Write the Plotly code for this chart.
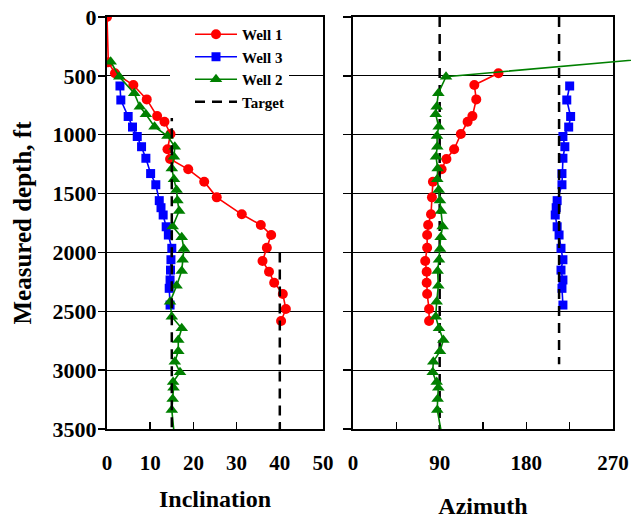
import plotly.graph_objects as go

# ---------------- data ----------------
depth_ticks = [0, 500, 1000, 1500, 2000, 2500, 3000, 3500]
incl_ticks = [0, 10, 20, 30, 40, 50]
azi_tickvals = [0, 45, 90, 135, 180, 225, 270]
azi_ticktext = ["0", "", "90", "", "180", "", "270"]

well1_depth = [0, 385, 478, 578, 700, 842, 890, 994, 1124, 1206, 1294, 1399, 1532,
               1676, 1767, 1852, 1960, 2073, 2164, 2257, 2353, 2481, 2583]
well1_incl = [0, 0.3, 1.85, 6.1, 9.2, 11.6, 13.3, 14.7, 14.0, 14.6, 18.8, 22.5, 25.4,
              31.2, 35.6, 38.0, 37.0, 36.0, 37.5, 38.7, 40.7, 41.4, 40.3]
well1_azi = [None, None, 151, 126, 128, 124, 119, 112, 105, 97, 92, 83, 82,
             81, 78, 77, 77, 75, 76.5, 76.5, 77, 79, 79]

well3_depth = [586, 705, 845, 935, 1015, 1102, 1200, 1330, 1425, 1560, 1620, 1682,
               1782, 1852, 1965, 2062, 2150, 2234, 2305, 2447]
well3_incl = [3.0, 3.2, 4.9, 5.9, 7.0, 8.0, 9.0, 10.1, 11.3, 12.1, 12.5, 13.0,
              13.7, 14.2, 15.0, 14.8, 14.7, 14.6, 14.4, 14.6]
well3_azi = [225, 222, 226, 224, 218, 220, 218, 217, 217, 212, 211, 210,
             212, 214, 216, 218, 216, 218, 217, 218]

well2_depth = [380, 507, 648, 762, 827, 932, 1011, 1102, 1187, 1286, 1379, 1470, 1558,
               1648, 1779, 1870, 1970, 2062, 2157, 2284, 2419, 2546, 2645, 2744, 2840,
               2928, 3018, 3100, 3150, 3245, 3338, 3560]
well2_incl = [0.85, 2.85, 6.3, 7.6, 9.0, 11.0, 14.0, 15.7, 15.5, 15.0, 15.5, 16.1, 16.3,
              16.7, 15.2, 17.3, 17.8, 17.5, 17.3, 16.1, 14.6, 15.0, 17.3, 16.5, 16.5,
              15.7, 16.9, 15.3, 15.4, 15.2, 15.0, 15.6]
well2_azi_depth = [330] + well2_depth[1:]
well2_azi = [340, 96.6, 88.6, 86.9, 85.9, 89.0, 87.2, 87.5, 86.2, 87.9, 87.5, 89.0, 90.3,
             91.4, 93.1, 91.0, 90.3, 89.3, 87.9, 88.6, 86.9, 85.9, 89.3, 93.8, 90.3,
             83.4, 82.8, 86.9, 88.6, 87.9, 87.5, 92.5]

target_incl_x = [15, 15, None, 40, 40]
target_incl_depth = [800, 3500, None, 2000, 3500]
target_azi_x = [90, 90, None, 214, 214]
target_azi_depth = [0, 3500, None, 0, 2950]

# ---------------- layout geometry ----------------
W, H = 631, 519
L, R, T, B = 107, 0, 17, 519 - 429
PW = W - L - R
PH = H - T - B


def fx(px):
    return (px - L) / PW


d1 = [fx(107), fx(323)]
d2 = [fx(353), fx(613)]
x3max = 270 * (1 - d2[0]) / (d2[1] - d2[0])

FONT = "Liberation Serif, Times New Roman, serif"
RED, BLUE, GREEN = "#FF0000", "#0000FF", "#008000"

fig = go.Figure()

common_line = dict(width=1.6)
# Inclination panel
fig.add_trace(go.Scatter(x=well1_incl, y=well1_depth, name="Well 1", mode="lines+markers",
                         line=dict(color=RED, **common_line),
                         marker=dict(symbol="circle", size=10, color=RED),
                         legendgroup="w1", xaxis="x", yaxis="y"))
fig.add_trace(go.Scatter(x=well3_incl, y=well3_depth, name="Well 3", mode="lines+markers",
                         line=dict(color=BLUE, **common_line),
                         marker=dict(symbol="square", size=9, color=BLUE),
                         legendgroup="w3", xaxis="x", yaxis="y"))
fig.add_trace(go.Scatter(x=well2_incl, y=well2_depth, name="Well 2", mode="lines+markers",
                         line=dict(color=GREEN, **common_line),
                         marker=dict(symbol="triangle-up", size=11, color=GREEN),
                         legendgroup="w2", xaxis="x", yaxis="y"))
fig.add_trace(go.Scatter(x=target_incl_x, y=target_incl_depth, name="Target", mode="lines",
                         line=dict(color="black", width=2.5, dash="10px,7px"),
                         legendgroup="tg", xaxis="x", yaxis="y"))

# Azimuth panel
fig.add_trace(go.Scatter(x=well1_azi, y=well1_depth, name="Well 1", mode="lines+markers",
                         line=dict(color=RED, **common_line),
                         marker=dict(symbol="circle", size=10, color=RED),
                         legendgroup="w1", showlegend=False, connectgaps=False,
                         xaxis="x2", yaxis="y2"))
fig.add_trace(go.Scatter(x=well3_azi, y=well3_depth, name="Well 3", mode="lines+markers",
                         line=dict(color=BLUE, **common_line),
                         marker=dict(symbol="square", size=9, color=BLUE),
                         legendgroup="w3", showlegend=False, xaxis="x2", yaxis="y2"))
fig.add_trace(go.Scatter(x=target_azi_x, y=target_azi_depth, name="Target", mode="lines",
                         line=dict(color="black", width=2.5, dash="10px,7px"),
                         legendgroup="tg", showlegend=False, xaxis="x2", yaxis="y2"))
fig.add_trace(go.Scatter(x=well2_azi, y=well2_azi_depth, name="Well 2", mode="lines+markers",
                         line=dict(color=GREEN, **common_line),
                         marker=dict(symbol="triangle-up", size=11, color=GREEN),
                         legendgroup="w2", showlegend=False, xaxis="x3", yaxis="y3"))

xtickfont = dict(family=FONT, size=21, color="black", weight="bold")
ytickfont = dict(family=FONT, size=22, color="black", weight="bold")
xtitlefont = dict(family=FONT, size=24, color="black", weight="bold")
ytitlefont = dict(family=FONT, size=25, color="black", weight="bold")

fig.update_layout(
    width=W, height=H, autosize=False,
    margin=dict(l=L, r=R, t=T, b=B, pad=0, autoexpand=False),
    paper_bgcolor="white", plot_bgcolor="rgba(0,0,0,0)",
    font=dict(family=FONT, color="black", weight="bold"),
    showlegend=True,
    legend=dict(x=fx(170), y=1 - 1 / PH, xanchor="left", yanchor="top",
                bgcolor="white", borderwidth=0, itemwidth=42, indentation=20,
                font=dict(family=FONT, size=15, color="black", weight="bold"),
                tracegroupgap=0),
    xaxis=dict(domain=d1, anchor="y", range=[0, 50], tickvals=incl_ticks,
               ticks="inside", ticklen=7, tickwidth=1.5, tickcolor="black",
               showline=True, linewidth=2, linecolor="black", mirror=True,
               showgrid=False, zeroline=False, tickfont=xtickfont,
               ticklabelstandoff=14,
               title=dict(text="Inclination", font=xtitlefont, standoff=16)),
    yaxis=dict(domain=[0, 1], anchor="x", range=[3500, 0], tickvals=depth_ticks,
               ticks="outside", ticklen=7, tickwidth=1.5, tickcolor="black",
               showline=True, linewidth=2, linecolor="black", mirror=True,
               showgrid=True, gridcolor="black", gridwidth=1.2, zeroline=False,
               tickfont=ytickfont, ticklabelstandoff=-3, ticklabeloverflow="allow",
               title=dict(text="Measured depth, ft", font=ytitlefont, standoff=14)),
    xaxis2=dict(domain=d2, anchor="y2", range=[0, 270], tickvals=azi_tickvals,
                ticktext=azi_ticktext,
                ticks="inside", ticklen=7, tickwidth=1.5, tickcolor="black",
                showline=True, linewidth=2, linecolor="black", mirror=True,
                showgrid=False, zeroline=False, tickfont=xtickfont,
                ticklabelstandoff=14, ticklabeloverflow="allow",
                title=dict(text="Azimuth", font=xtitlefont, standoff=23)),
    yaxis2=dict(domain=[0, 1], anchor="x2", range=[3500, 0], tickvals=depth_ticks,
                ticks="outside", ticklen=8, tickwidth=1.5, tickcolor="black",
                showline=True, linewidth=2, linecolor="black", mirror=True,
                showgrid=True, gridcolor="black", gridwidth=1.2, zeroline=False,
                showticklabels=False),
    xaxis3=dict(domain=[d2[0], 1], anchor="y3", range=[0, x3max], visible=False,
                showgrid=False, zeroline=False),
    yaxis3=dict(domain=[0, 1], anchor="x3", range=[3500, 0], visible=False,
                showgrid=False, zeroline=False),
)

# place the figure at the page's top-left corner (no default body margin)
page_fix = (
    "document.body.style.margin='0';"
    "document.body.style.overflow='hidden';"
    "var gd=document.getElementById('{plot_id}');"
    "gd.style.width='631px';gd.style.height='519px';"
)

fig.write_html("out.html",
               config={"responsive": False, "displayModeBar": False, "staticPlot": True},
               post_script=page_fix)
